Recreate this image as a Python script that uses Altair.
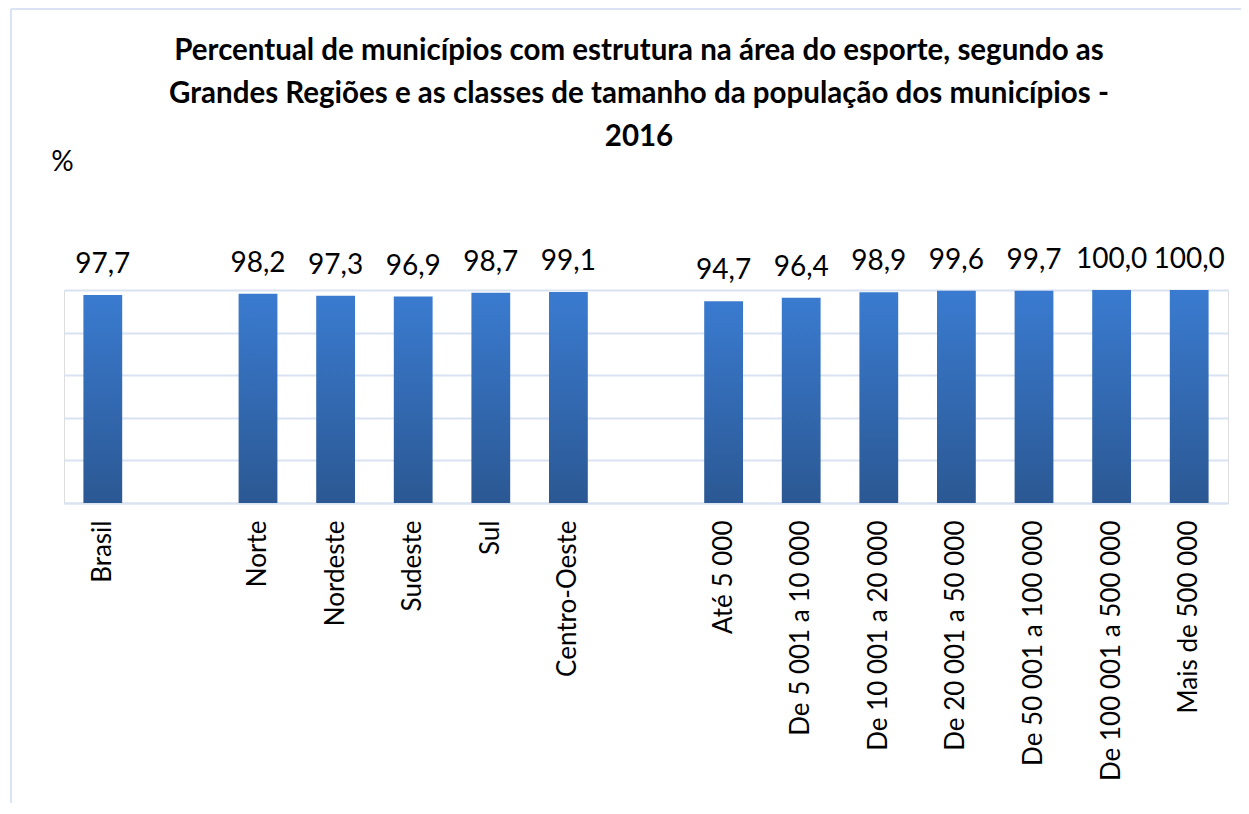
import altair as alt
import pandas as pd

categorias = ["Brasil", " ", "Norte", "Nordeste", "Sudeste", "Sul", "Centro-Oeste", "  ",
              "Até 5 000", "De 5 001 a 10 000", "De 10 001 a 20 000", "De 20 001 a 50 000",
              "De 50 001 a 100 000", "De 100 001 a 500 000", "Mais de 500 000"]
barras = ["Brasil", "Norte", "Nordeste", "Sudeste", "Sul", "Centro-Oeste",
          "Até 5 000", "De 5 001 a 10 000", "De 10 001 a 20 000", "De 20 001 a 50 000",
          "De 50 001 a 100 000", "De 100 001 a 500 000", "Mais de 500 000"]
valores = [97.7, 98.2, 97.3, 96.9, 98.7, 99.1, 94.7, 96.4, 98.9, 99.6, 99.7, 100.0, 100.0]
titulo = ["Percentual de municípios com estrutura na área do esporte, segundo as",
          "Grandes Regiões e as classes  de tamanho da população dos municípios -",
          "2016"]

df = pd.DataFrame({"cat": barras, "valor": valores})

FONT = "Lato"
GRID = "#d9e2f1"

x = alt.X("cat:N", sort=categorias,
          scale=alt.Scale(domain=categorias, paddingInner=0.5, paddingOuter=0.25),
          axis=alt.Axis(title=None, labelAngle=-90, labelFontSize=26, labelFont=FONT,
                        labelColor="#000000", labelPadding=17, ticks=False,
                        domainColor=GRID, domainWidth=2, labelLimit=400))
y = alt.Y("valor:Q", scale=alt.Scale(domain=[0, 100]),
          axis=alt.Axis(title="%", titleAngle=0, titleX=-2, titleY=-120, titleAlign="center",
                        titleBaseline="alphabetic", titleFont=FONT, titleFontSize=28,
                        titleFontWeight="normal", titleColor="#000000",
                        labels=False, ticks=False, domain=False, values=[0, 20, 40, 60, 80, 100],
                        gridColor=GRID, gridWidth=2))

grad = alt.Gradient(gradient="linear", x1=0, x2=0, y1=0, y2=1,
                    stops=[alt.GradientStop(color="#3a7bd0", offset=0),
                           alt.GradientStop(color="#2b5893", offset=1)])

bars = alt.Chart(df).mark_bar(color=grad).encode(x=x, y=y)
labels = alt.Chart(df).transform_calculate(
    rotulo="replace(format(datum.valor, '.1f'), '.', ',')"
).mark_text(baseline="alphabetic", dy=-22, fontSize=28, font=FONT, color="#000000").encode(
    x=alt.X("cat:N", sort=categorias), y="valor:Q", text="rotulo:N")

frame = alt.Chart(alt.Data(values=[{}])).mark_rule(color="#dae3f3", strokeWidth=2).encode(
    x=alt.value(-53), y=alt.value(-281), y2=alt.value(560))
frame2 = alt.Chart(alt.Data(values=[{}])).mark_rule(color="#dae3f3", strokeWidth=2).encode(
    x=alt.value(-53), x2=alt.value(1200), y=alt.value(-281))

chart = alt.layer(frame, frame2, bars, labels).properties(
    width=1164, height=213,
    title=alt.Title(titulo, font=FONT, fontSize=29.5, fontWeight="bold", color="#000000",
                    lineHeight=43, anchor="middle", offset=10, dx=-7, dy=154),
    autosize=alt.AutoSizeParams(type="none"),
    padding={"left": 56, "top": 282, "right": 13, "bottom": 300},
).configure_view(stroke=None).configure(background="white")

chart.save("out.html", embed_options={"renderer": "svg", "actions": False})
